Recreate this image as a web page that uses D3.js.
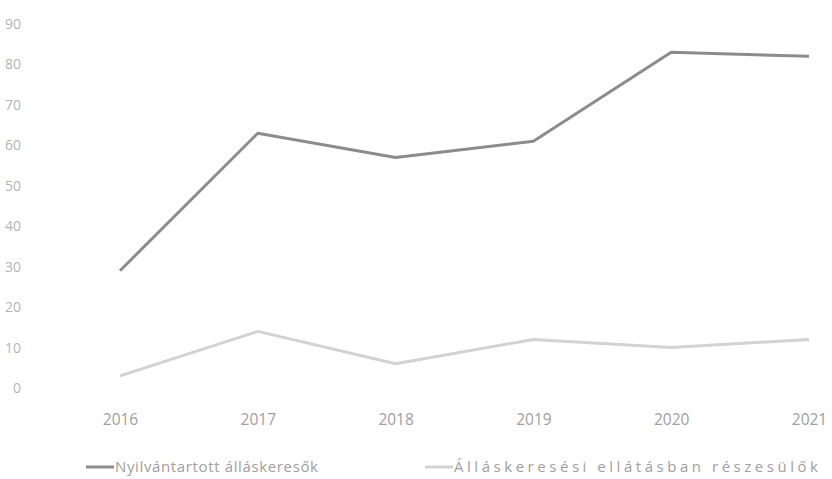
<!DOCTYPE html>
<html><head><meta charset="utf-8">
<script src="https://cdn.jsdelivr.net/npm/d3@7"></script>
<style>body{margin:0;background:#fff}svg{display:block}</style>
</head><body>
<svg id="c" width="832" height="479"></svg>
<script>
const years = ["2016","2017","2018","2019","2020","2021"];
const registered = [29, 63, 57, 61, 83, 82];
const benefits = [3, 14, 6, 12, 10, 12];
const yTicks = [0,10,20,30,40,50,60,70,80,90];
const seriesNames = ["Nyilvántartott álláskeresők","Álláskeresési ellátásban részesülők"];

const svg = d3.select("#c");
const font = "'Open Sans', Lato, sans-serif";
const x = d3.scalePoint().domain(years).range([120, 809]);
const y = d3.scaleLinear().domain([0, 90]).range([388, 24]);

// y axis labels
svg.append("g").attr("transform","translate(21,0)")
  .call(d3.axisLeft(y).tickValues(yTicks).tickSize(0).tickPadding(0))
  .call(g=>g.select(".domain").remove())
  .call(g=>g.selectAll("text").attr("fill","#b4b4b4").style("font-family",font).style("font-size","14px"));

// x axis labels
svg.append("g").attr("transform","translate(0,414)")
  .call(d3.axisBottom(x).tickSize(0).tickPadding(0))
  .call(g=>g.select(".domain").remove())
  .call(g=>g.selectAll("text").attr("fill","#a0a0a0").style("font-family",font).style("font-size","15.5px"));

const line = d3.line().x((d,i)=>x(years[i])).y(d=>y(d));
svg.append("path").datum(benefits).attr("d",line).attr("fill","none")
  .attr("stroke","#d2d2d2").attr("stroke-width",3).attr("stroke-linejoin","round");
svg.append("path").datum(registered).attr("d",line).attr("fill","none")
  .attr("stroke","#8c8c8c").attr("stroke-width",3).attr("stroke-linejoin","round");

// legend
const leg = [
  {name: seriesNames[0], color:"#8c8c8c", x0:86, x1:114, tx:115, tw:203},
  {name: seriesNames[1], color:"#d2d2d2", x0:425, x1:453, tx:454, tw:364}
];
const lg = svg.append("g");
leg.forEach(l=>{
  lg.append("line").attr("x1",l.x0).attr("x2",l.x1).attr("y1",467).attr("y2",467)
    .attr("stroke",l.color).attr("stroke-width",3);
  lg.append("text").attr("x",l.tx).attr("y",472).text(l.name)
    .attr("fill","#a0a0a0").style("font-family",font).style("font-size","15px")
    .attr("textLength",l.tw).attr("lengthAdjust","spacing");
});
</script>
</body></html>
